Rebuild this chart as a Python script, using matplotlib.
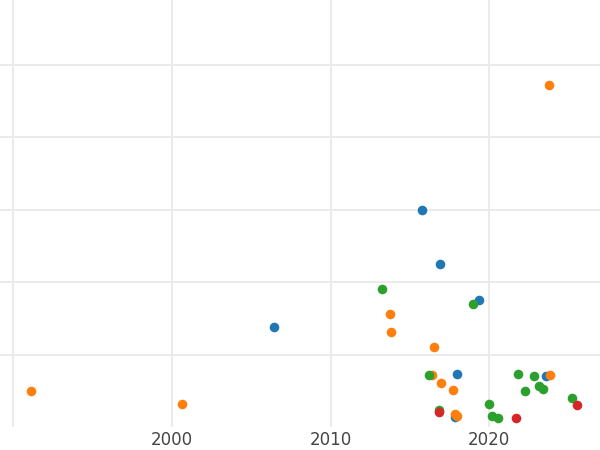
import matplotlib
matplotlib.use('agg')
import matplotlib.pyplot as plt

# series values (year, value)
blue_x = [2006.45, 2015.75, 2016.9, 2019.35, 2017.95, 2017.85, 2023.6]
blue_y = [1.38, 3.0, 2.25, 1.75, 0.73, 0.14, 0.70]

orange_x = [1991.1, 2000.6, 2023.8, 2013.75, 2013.8, 2016.5, 2016.4, 2017.0, 2017.7, 2017.85, 2018.0, 2023.85]
orange_y = [0.50, 0.32, 4.72, 1.56, 1.31, 1.10, 0.72, 0.61, 0.51, 0.18, 0.15, 0.72]

green_x = [2013.25, 2019.0, 2016.2, 2016.85, 2020.0, 2020.2, 2020.55, 2021.8, 2022.3, 2022.85, 2023.15, 2023.4, 2025.25]
green_y = [1.90, 1.70, 0.72, 0.23, 0.32, 0.15, 0.13, 0.73, 0.49, 0.71, 0.56, 0.53, 0.40]

red_x = [2016.85, 2021.7, 2025.55]
red_y = [0.21, 0.12, 0.30]

series = [(blue_x, blue_y, '#1f77b4'),
          (orange_x, orange_y, '#ff7f0e'),
          (green_x, green_y, '#2ca02c'),
          (red_x, red_y, '#d62728')]

fig = plt.figure(figsize=(6, 4.5), dpi=100)
ax = fig.add_axes([0, 23 / 450, 1, 427 / 450])

for xs, ys, c in series:
    ax.scatter(xs, ys, s=48, color=c, linewidths=0, zorder=3)

ax.set_xlim(1989.15, 2027.0)
ax.set_ylim(0, 5.89)
ax.set_xticks([1990, 2000, 2010, 2020])
ax.set_xticklabels(['', '2000', '2010', '2020'])
ax.set_yticks([1, 2, 3, 4, 5])
ax.set_yticklabels([])
ax.grid(True, color='#ebebeb', linewidth=1.4)
ax.set_axisbelow(True)
ax.tick_params(length=0, pad=3, labelsize=12, labelcolor='#444444')
for sp in ax.spines.values():
    sp.set_visible(False)

fig.savefig('out.png', dpi=100)
